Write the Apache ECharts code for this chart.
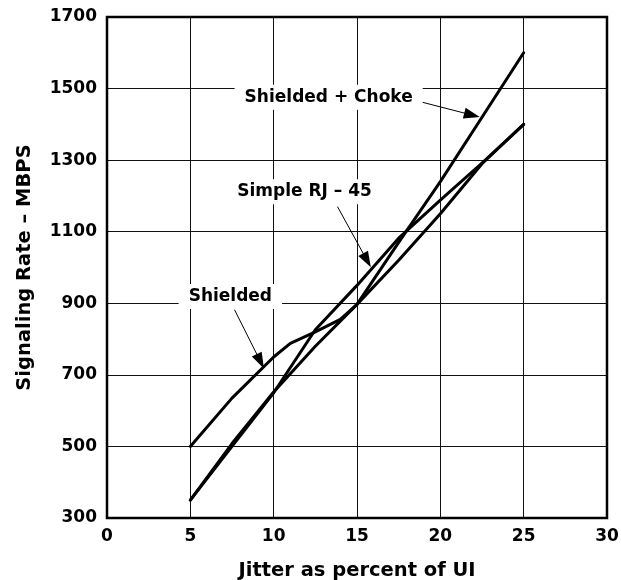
<!DOCTYPE html>
<html>
<head>
<meta charset="utf-8">
<script src="https://cdn.jsdelivr.net/npm/echarts@6/dist/echarts.min.js"></script>
<style>
html,body{margin:0;padding:0;background:#fff;}
#chart{width:621px;height:580px;}
</style>
</head>
<body>
<div id="chart"></div>
<script>
// ---- data ----
var xTicks = [0, 5, 10, 15, 20, 25, 30];
var yTicks = [300, 500, 700, 900, 1100, 1300, 1500, 1700];

var shieldedX = [5, 7.5, 10, 11, 12.5, 14, 15, 17.5, 20, 22.5, 25];
var shieldedY = [500, 635, 750, 788, 820, 855, 897, 1020, 1150, 1290, 1400];

var rj45X = [5, 7.5, 10, 12.5, 15, 17.5, 20, 22.5, 25];
var rj45Y = [350, 500, 650, 826, 950, 1082, 1188, 1292, 1400];

var chokeX = [5, 7.5, 10, 12.5, 15, 17.5, 20, 22.5, 25];
var chokeY = [350, 508, 652, 780, 897, 1070, 1240, 1420, 1600];

// annotation labels: [text, labelX, labelY, arrowFromX, arrowFromY, arrowToX, arrowToY]
var labelChoke = ['Shielded + Choke', 13.3, 1476, 18.9, 1462, 21.9, 1426];
var labelRJ = ['Simple RJ \u2013 45', 11.85, 1212, 13.83, 1170, 15.6, 1020];
var labelShielded = ['Shielded', 7.4, 919, 7.65, 882, 9.2, 738];

function pairs(xs, ys) {
  return xs.map(function (x, i) { return [x, ys[i]]; });
}

var FONT = 'DejaVu Sans';

function annot(a) {
  return {
    markPoint: {
      symbol: 'rect',
      symbolSize: 0,
      silent: true,
      data: [{
        coord: [a[1], a[2]],
        label: {
          show: true,
          position: 'inside',
          formatter: a[0],
          color: '#000',
          fontFamily: FONT,
          fontWeight: 'bold',
          fontSize: 17,
          backgroundColor: '#fff',
          padding: [4, 10, 4, 10]
        }
      }]
    },
    markLine: {
      silent: true,
      animation: false,
      symbol: ['none', 'triangle'],
      symbolSize: [11, 16],
      label: { show: false },
      lineStyle: { color: '#000', width: 1, type: 'solid' },
      data: [[{ coord: [a[3], a[4]] }, { coord: [a[5], a[6]] }]]
    }
  };
}

function lineSeries(name, data, a) {
  var s = {
    name: name,
    type: 'line',
    data: data,
    showSymbol: false,
    symbol: 'none',
    smooth: false,
    animation: false,
    lineStyle: { color: '#000', width: 3, join: 'round', cap: 'round' },
    itemStyle: { color: '#000' },
    z: 3
  };
  var an = annot(a);
  s.markPoint = an.markPoint;
  s.markLine = an.markLine;
  return s;
}

var chart = echarts.init(document.getElementById('chart'), null, { renderer: 'canvas' });
chart.setOption({
  backgroundColor: '#fff',
  animation: false,
  grid: {
    left: 107, right: 14, top: 17, bottom: 62,
    containLabel: false,
    outerBoundsMode: 'none',
    show: true, borderColor: '#000', borderWidth: 2.5, backgroundColor: 'transparent', z: 5
  },
  xAxis: {
    type: 'value',
    min: xTicks[0], max: xTicks[xTicks.length - 1], interval: 5,
    name: 'Jitter as percent of UI',
    nameLocation: 'middle',
    nameGap: 43,
    nameTextStyle: { fontFamily: FONT, fontWeight: 'bold', fontSize: 19.5, color: '#000' },
    axisLine: { show: false },
    axisTick: { show: false },
    axisLabel: { margin: 10, fontFamily: FONT, fontWeight: 'bold', fontSize: 17, color: '#000',
      formatter: function (v) { return String(v); } },
    splitLine: { show: true, lineStyle: { color: '#111', width: 1 } }
  },
  yAxis: {
    type: 'value',
    min: yTicks[0], max: yTicks[yTicks.length - 1], interval: 200,
    name: 'Signaling Rate \u2013 MBPS',
    nameLocation: 'middle',
    nameGap: 72,
    nameTextStyle: { fontFamily: FONT, fontWeight: 'bold', fontSize: 19.5, color: '#000' },
    axisLine: { show: false },
    axisTick: { show: false },
    axisLabel: { margin: 10, fontFamily: FONT, fontWeight: 'bold', fontSize: 17, color: '#000',
      formatter: function (v) { return String(v); } },
    splitLine: { show: true, lineStyle: { color: '#111', width: 1 } }
  },
  series: [
    lineSeries('Shielded', pairs(shieldedX, shieldedY), labelShielded),
    lineSeries('Simple RJ-45', pairs(rj45X, rj45Y), labelRJ),
    lineSeries('Shielded + Choke', pairs(chokeX, chokeY), labelChoke)
  ]
});
</script>
</body>
</html>
